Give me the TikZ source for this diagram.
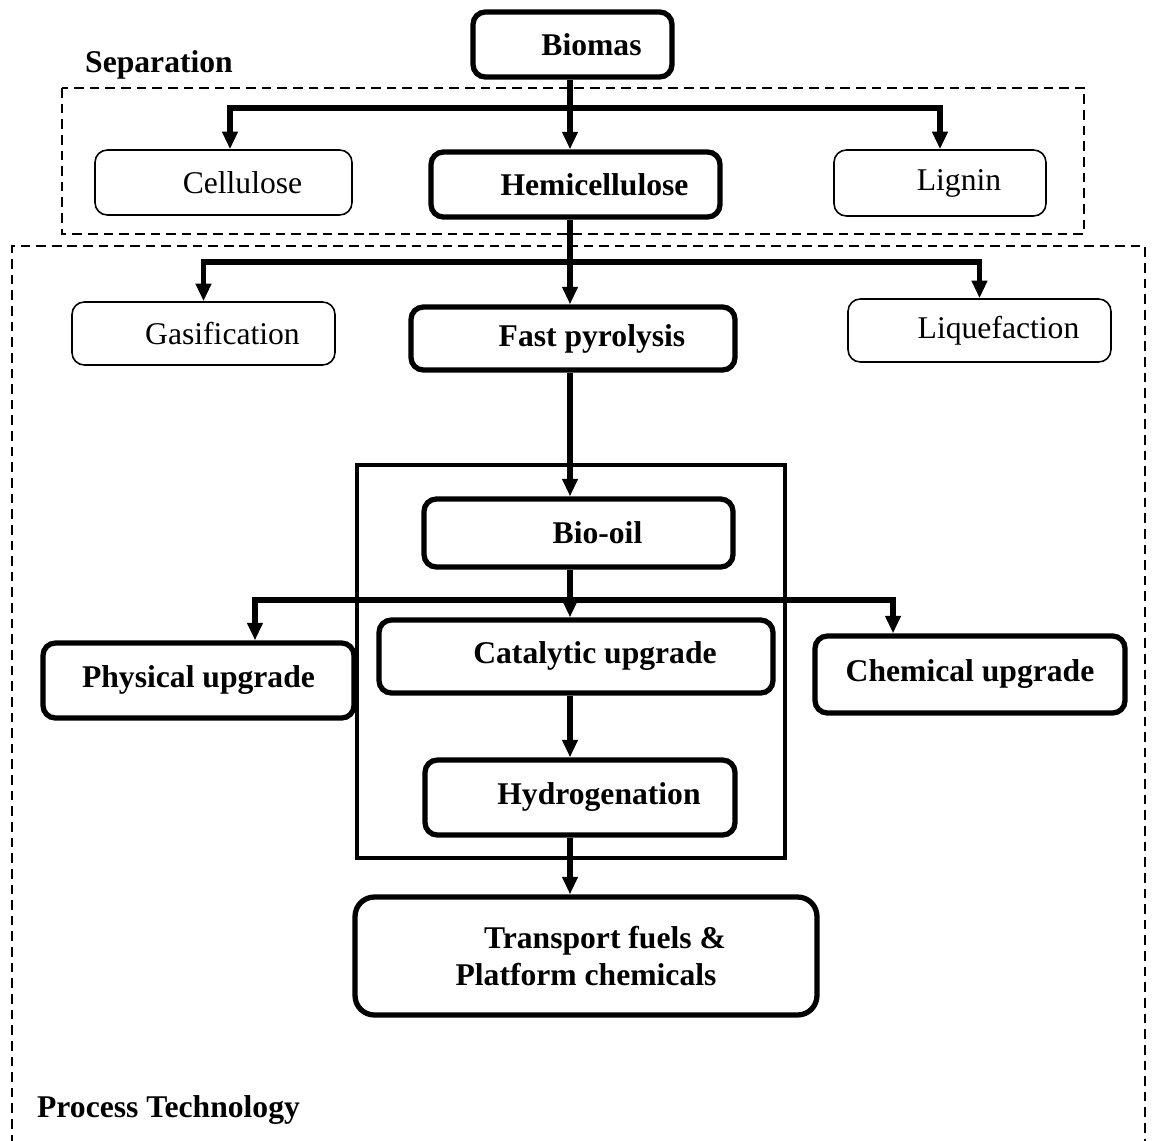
\documentclass[tikz,border=0pt]{standalone}
\usepackage{fontspec}
\setmainfont{Liberation Serif}
\usetikzlibrary{arrows.meta,positioning}

\newcommand{\txtpad}{\hspace*{0.76cm}}

\begin{document}
\begin{tikzpicture}[
      x=0.02cm, y=-0.02cm,
      font=\fontsize{18}{20.5}\selectfont,
      thinbox/.style={
        draw, rounded corners=7pt, line width=0.9pt, fill=white,
        align=center, inner sep=0pt
      },
      thickbox/.style={
        thinbox, line width=3pt, font=\fontsize{18}{20.5}\selectfont\bfseries
      },
      link/.style={-{Triangle[length=10pt,width=8.5pt]}, line width=3.2pt},
      sepline/.style={dash pattern=on 5.5pt off 3.4pt, line width=0.85pt},
      frame/.style={draw, line width=2.6pt, inner sep=0pt},
      heading/.style={font=\fontsize{18}{20.5}\selectfont\bfseries, inner sep=0pt}
    ]
      \useasboundingbox (0,0) rectangle (1152,1140);
      \draw[sepline] (62,88) rectangle (1084,234);
      \draw[sepline] (12,1160) -- (12,246) -- (1145,246) -- (1145,1160);
      \node[frame, minimum width=8.56cm, minimum height=7.86cm] (upg) at (571,661.5) {};

      \node[heading] (septitle) at (159,65) {Separation};
      \node[heading] (proctitle) at (168.5,1110) {Process Technology};

      \node[thickbox, minimum width=3.98cm, minimum height=1.3cm] (biomas) at (572.5,44.5) {\txtpad Biomas};
      \node[thinbox, minimum width=5.14cm, minimum height=1.3cm] (cell) at (223.5,182.5) {\txtpad Cellulose};
      \node[thickbox, minimum width=5.78cm, minimum height=1.3cm] (hemi) at (575.5,184.5) {\txtpad Hemicellulose};
      \node[thinbox, minimum width=4.24cm, minimum height=1.32cm] (lig) at (940,183) {\txtpad Lignin};
      \node[thinbox, minimum width=5.26cm, minimum height=1.26cm] (gas) at (203.5,333.5) {\txtpad Gasification};
      \node[thickbox, minimum width=6.48cm, minimum height=1.26cm] (fast) at (573,338.5) {\txtpad Fast pyrolysis};
      \node[thinbox, minimum width=5.26cm, minimum height=1.26cm] (liq) at (979.5,330.5) {\txtpad Liquefaction};
      \node[thickbox, minimum width=6.18cm, minimum height=1.36cm] (bio) at (578.5,533) {\txtpad Bio-oil};
      \node[thickbox, minimum width=7.88cm, minimum height=1.46cm] (cat) at (576,656.5) {\txtpad Catalytic upgrade};
      \node[thickbox, minimum width=6.22cm, minimum height=1.5cm] (phys) at (198.5,680.5) {Physical upgrade};
      \node[thickbox, minimum width=6.2cm, minimum height=1.54cm] (chem) at (970,674.5) {Chemical upgrade};
      \node[thickbox, minimum width=6.2cm, minimum height=1.5cm] (hyd) at (580,797.5) {\txtpad Hydrogenation};
      \node[thickbox, rounded corners=11pt, minimum width=9.24cm, minimum height=2.36cm] (fuel) at (586,956)
        {\txtpad Transport fuels \&\\Platform chemicals};

      \coordinate (col) at (570,0);
      \coordinate (sepbus) at (570,108);
      \coordinate (procbus) at (570,262);
      \coordinate (upbus) at (570,600);

      \draw[link] (col |- biomas.south) -- (col |- hemi.north);
      \draw[link] (sepbus) -| ([xshift=0.13cm]cell.north);
      \draw[link] (sepbus) -| (lig.north);
      \draw[link] (col |- hemi.south) -- (col |- fast.north);
      \draw[link] (procbus) -| (gas.north);
      \draw[link] (procbus) -| (liq.north);
      \draw[link] (col |- fast.south) -- (col |- bio.north);
      \draw[link] (col |- bio.south) -- (col |- cat.north);
      \draw[link] (upbus) -| ([xshift=1.13cm]phys.north);
      \draw[link] (upbus) -| ([xshift=-1.54cm]chem.north);
      \draw[link] (col |- cat.south) -- (col |- hyd.north);
      \draw[link] (col |- hyd.south) -- (col |- fuel.north);
    \end{tikzpicture}
\end{document}
